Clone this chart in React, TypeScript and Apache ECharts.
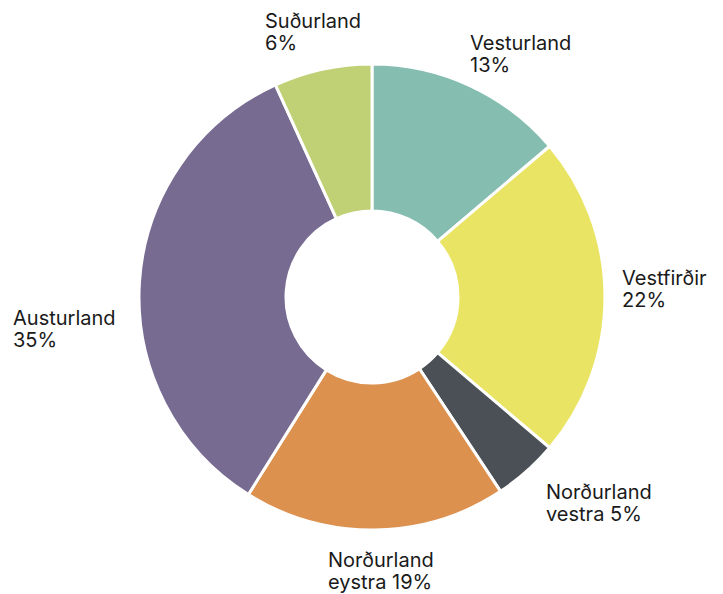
import React, { useEffect, useRef } from "react";
import * as echarts from "echarts";

const categories = [
  "Vesturland",
  "Vestfirðir",
  "Norðurland vestra",
  "Norðurland eystra",
  "Austurland",
  "Suðurland",
];
// slice sizes
const shares = [13.8, 22.4, 4.5, 18.2, 34.3, 6.8];
// percentages as printed on the labels
const shareLabels = ["13%", "22%", "5%", "19%", "35%", "6%"];
const colors = ["#86BDB1", "#EAE465", "#4A5055", "#DC914F", "#776B91", "#C0D075"];
// label anchor (top-left of text block), in px
const labelPos: [number, number][] = [
  [470, 32],
  [622, 267],
  [546, 481],
  [328, 549],
  [13, 307],
  [265, 10],
];

export default function App() {
  const ref = useRef<HTMLDivElement>(null);
  useEffect(() => {
    if (!ref.current) return;
    const chart = echarts.init(ref.current, null, { renderer: "svg" });
    chart.setOption({
      animation: false,
      backgroundColor: "#ffffff",
      series: [
        {
          type: "pie",
          center: [372, 297],
          radius: [86, 233],
          startAngle: 90,
          clockwise: true,
          avoidLabelOverlap: false,
          itemStyle: { borderColor: "#ffffff", borderWidth: 3 },
          label: {
            show: true,
            position: "outside",
            color: "#1a1a1a",
            fontFamily: "Inter, 'Noto Sans', sans-serif",
            fontSize: 20,
            lineHeight: 22,
            formatter: (p: any) => {
              const n: string = p.name;
              const pct = shareLabels[p.dataIndex];
              if (n.includes(" ")) {
                const i = n.indexOf(" ");
                return n.slice(0, i) + "\n" + n.slice(i + 1) + " " + pct;
              }
              return n + "\n" + pct;
            },
          },
          labelLine: { show: false },
          labelLayout: (params: any) => {
            const pos = labelPos[params.dataIndex];
            return {
              x: pos[0],
              y: pos[1],
              align: "left",
              verticalAlign: "top",
              hideOverlap: false,
            };
          },
          data: categories.map((c, i) => ({
            name: c,
            value: shares[i],
            itemStyle: { color: colors[i] },
          })),
        },
      ],
    });
    return () => chart.dispose();
  }, []);
  return (
    <div
      ref={ref}
      style={{ position: "fixed", left: 0, top: 0, width: 723, height: 594 }}
    />
  );
}
